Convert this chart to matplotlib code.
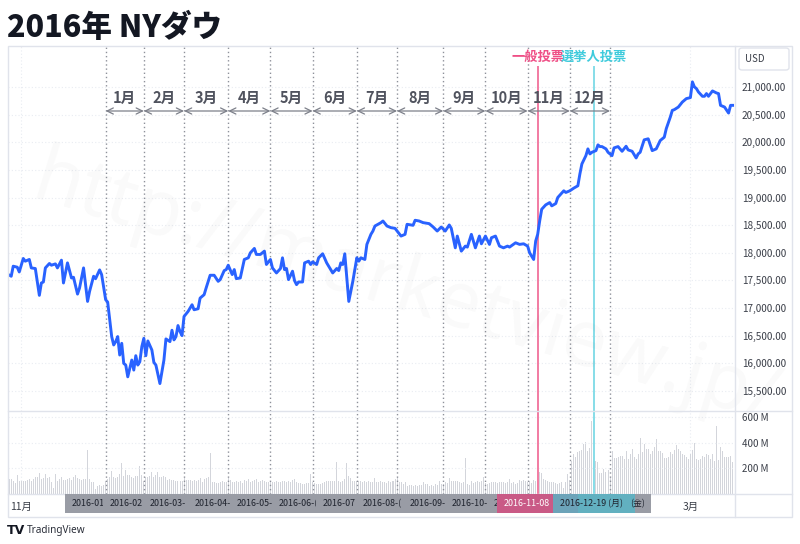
import matplotlib
matplotlib.use("Agg")
import matplotlib.pyplot as plt
from matplotlib.patches import Rectangle, FancyBboxPatch
from matplotlib.lines import Line2D
from matplotlib.transforms import blended_transform_factory
from matplotlib.ticker import FixedLocator, FuncFormatter

plt.rcParams['font.family'] = ['Noto Sans CJK JP', 'DejaVu Sans']

# ---------------- data (x = trading-day index, 0 = 2016-01-04) ----------------
price_idx = [-49, -47, -46, -44, -43, -41, -40, -38, -37, -35, -33, -32, -31, -30, -28, -27, -25, -24,
             -22, -21, -19, -17, -16, -14, -13, -11, -9, -8, -6, -5, -3, -2,
             0, 1, 2, 3, 4, 5, 6, 7, 8, 9, 10, 11, 12, 13, 14, 15, 16, 17, 18, 19, 20, 21, 23, 24, 25,
             27, 29, 30, 32, 33, 34, 35, 36, 37, 38, 39, 41, 43, 44, 46, 47, 49, 50, 52, 54, 56, 57,
             59, 60, 61, 63, 64, 65, 67, 69, 71, 72, 74, 75, 77, 79, 80, 82, 83, 85, 87, 88, 89, 90,
             91, 93, 94, 95, 96, 98, 99, 101, 102, 103, 105, 106, 108, 110, 112, 113, 115, 116, 117,
             118, 119, 121, 123, 125, 126, 127, 129, 130, 132, 133, 134, 137, 138, 140, 142, 144, 147,
             149, 150, 153, 154, 156, 158, 161, 163, 165, 167, 169, 171, 172, 174, 175, 177, 179, 180,
             182, 184, 186, 187, 189, 191, 192, 194, 196, 198, 200, 201, 204, 206, 208, 210, 211, 213,
             214, 215, 216, 217, 219, 221, 222, 224, 225, 228, 229, 231, 233, 235, 236, 237, 239, 240,
             241, 242, 244, 245, 246, 247, 249, 250, 252, 253, 255, 256, 257, 259, 260, 262, 264, 265,
             266, 268, 270, 272, 274, 276, 277, 278, 279, 281, 282, 283, 285, 287, 289, 291, 292, 293,
             294, 295, 297, 298, 299, 300, 302, 304, 305, 306, 308, 310, 311, 312]
price_close = [17618, 17576, 17758, 17740, 17654, 17898, 17849, 17880, 17727, 17716, 17230, 17454, 17472,
               17727, 17807, 17776, 17800, 17727, 17867, 17454, 17818, 17545, 17557, 17253, 17363, 17727,
               17120, 17302, 17576, 17533, 17691, 17606,
               17151, 17108, 16787, 16483, 16331, 16392, 16483, 16149, 16361, 15997, 15967, 15754, 15905,
               16058, 15876, 16137, 15967, 16027, 16301, 16452, 16137, 16404, 16240, 16015, 15967,
               15632, 16058, 16441, 16392, 16598, 16423, 16483, 16683, 16574, 16501, 16847, 16938, 17060,
               16969, 16987, 17180, 17242, 17363, 17594, 17594, 17484, 17515,
               17679, 17697, 17776, 17606, 17697, 17533, 17545, 17880, 17910, 18000, 18080, 17971, 17971,
               18031, 17789, 17880, 17727, 17636, 17716, 17910, 17697, 17716,
               17515, 17667, 17497, 17424, 17472, 17472, 17818, 17849, 17789, 17837, 17789, 17910, 17983,
               17818, 17697, 17636, 17716, 17679, 17818,
               17789, 17983, 17120, 17484, 17910, 17849, 17910, 17880, 18153, 18335, 18395, 18486, 18547,
               18577, 18486, 18456, 18444, 18304,
               18335, 18517, 18499, 18590, 18577, 18547, 18529, 18468, 18395, 18468, 18395, 18505, 18444,
               18091, 18304, 18031, 18122, 18104,
               18335, 18091, 18304, 18164, 18304, 18153, 18274, 18304, 18122, 18091, 18122, 18104, 18182,
               18153, 18164, 18122, 18000, 17880,
               18213, 18335, 18577, 18790, 18869, 18911, 18851, 18893, 19003, 19124, 19094, 19124, 19173,
               19215, 19428, 19610, 19761, 19883,
               19792, 19822, 19852, 19956, 19925, 19925, 19883, 19822, 19761, 19901, 19925, 19883, 19840,
               19931, 19865, 19840, 19719, 19792,
               19822, 20047, 20066, 19852, 19883, 20035, 20066, 20095, 20250, 20459, 20581, 20594, 20641,
               20732, 20794, 20812, 21097, 21006,
               20976, 20914, 20836, 20836, 20885, 20836, 20933, 20896, 20885, 20672, 20641, 20532, 20672,
               20672]

vol_first_idx = -49
volume_m = ([162, 117, 117, 104, 84, 151, 104, 104, 104, 104, 112, 117, 104, 117, 130, 136, 164, 117,
             125, 157, 125, 130, 91, 47, 157, 104, 117, 136, 112, 112, 117, 125, 112, 136, 151, 125,
             117, 112, 120, 115, 347, 117, 91, 96, 39, 60, 73, 65, 73]
            + [104, 117, 136, 183, 136, 125, 136, 157, 243, 143, 191, 151, 151, 136, 125, 138, 143, 222,
               151, 104, 136, 136, 143, 170, 130, 149, 175, 136, 136, 143, 130, 112, 117, 112, 112, 104,
               104, 104, 104, 125, 112, 112, 112, 104, 112, 104, 112, 125, 91, 117, 125, 130, 324, 91,
               91, 84, 84, 91, 104, 91, 91]
            + [125, 110, 91, 91, 104, 91, 104, 84, 112, 104, 117, 91, 104, 112, 117, 91, 104, 112, 104,
               91, 91, 91, 91, 91, 104, 91, 96, 99, 104, 91, 104, 91, 112, 117, 96, 84, 84, 78, 78, 88, 84]
            + [157]
            + [91, 84, 78, 78, 78, 84, 91, 104, 104, 104, 104, 104]
            + [248]
            + [104, 91, 104, 120]
            + [243]
            + [143, 125, 104, 104, 104, 104, 104, 91, 99, 91, 99, 91, 91, 125, 91, 91, 99, 91, 91, 84,
               99, 91, 99, 117, 130, 91]
            + [91, 78, 97, 65, 73, 73, 65, 73, 65, 73, 73, 97, 78, 78, 65, 73, 65, 78, 70, 99, 78, 78,
               91, 83, 125, 104, 104, 104, 104, 96, 88, 92]
            + [282]
            + [78, 73, 104, 83, 91, 99, 91, 104, 136, 83, 78, 83, 91, 91, 96, 83, 91, 91, 91, 83, 96,
               117, 83, 91, 78, 83, 110, 104, 112, 104]
            + [91, 99, 83, 110, 104, 120, 175, 162, 117, 110, 104, 91, 97, 91, 83, 78, 83, 91, 47, 91,
               157, 110, 261, 313, 287, 326, 339, 344, 392, 404, 339, 360, 574, 287, 261, 248, 162, 162,
               196, 170, 185, 130]
            + [339, 282, 282, 292, 300, 300, 274, 339, 274, 313, 352, 290, 274, 313, 438, 326, 391, 352,
               352, 313, 339, 370, 430, 339, 339, 320, 282, 282, 287, 326, 313, 344, 386, 352, 339, 313,
               308, 292, 274, 313, 344, 397, 274, 266, 274, 300, 287, 313, 308, 274, 313, 261, 535, 266,
               370, 334, 287, 292, 292, 300, 248])

month_bounds = [0, 19, 39, 61, 82, 103, 125, 145, 168, 189, 210, 231, 251]
month_labels = ['1月', '2月', '3月', '4月', '5月', '6月', '7月', '8月', '9月', '10月', '11月', '12月']
# visible (partly hidden by the next label) parts of the date labels on the time axis
bound_date_text = ['2016-01', '2016-02', '2016-03-', '2016-04-', '2016-05-', '2016-06-(',
                   '2016-07', '2016-08-(', '2016-09-', '2016-10-', '20', '', '(金)']
event_idx = [215, 243]
event_labels = ['一般投票', '選挙人投票']
event_date_text = ['2016-11-08', '2016-12-19 (月)']
time_ticks = [-42, 291]
time_tick_labels = ['11月', '3月']
price_ticks = [15500, 16000, 16500, 17000, 17500, 18000, 18500, 19000, 19500, 20000, 20500, 21000]
vol_ticks = [200, 400, 600]

# ---------------- figure ----------------
W, H = 800, 544
fig = plt.figure(figsize=(W / 100, H / 100), dpi=100)
fig.patch.set_facecolor('white')


def fx(x):
    return x / W


def fy(y):
    return 1 - y / H


PL, PR, PT, PB, VB = 8, 735, 46, 411, 494
ax = fig.add_axes([fx(PL), fy(PB), (PR - PL) / W, (PB - PT) / H])
axv = fig.add_axes([fx(PL), fy(VB), (PR - PL) / W, (VB - PB) / H], sharex=ax)

ax.set_xlim(-48.6, 313.2)
ax.set_ylim(15135, 21747)
axv.set_ylim(0, 650)

for a in (ax, axv):
    for s in a.spines.values():
        s.set_visible(False)
    a.set_facecolor('none')

grid_col = '#e9ecf2'
ax.yaxis.tick_right()
ax.yaxis.set_major_locator(FixedLocator(price_ticks))
ax.yaxis.set_major_formatter(FuncFormatter(lambda v, p: f'{v:,.2f}'))
ax.tick_params(axis='y', length=0, pad=5, labelsize=7.2, labelcolor='#3a3e48')
ax.tick_params(axis='x', length=0, labelbottom=False)
ax.grid(axis='y', color=grid_col, ls=(0, (1, 2)), lw=0.8)

axv.yaxis.tick_right()
axv.yaxis.set_major_locator(FixedLocator(vol_ticks))
axv.yaxis.set_major_formatter(FuncFormatter(lambda v, p: f'{int(v)} M'))
axv.tick_params(axis='y', length=0, pad=5, labelsize=7, labelcolor='#3a3e48')
axv.grid(axis='y', color=grid_col, ls=(0, (1, 2)), lw=0.8)
axv.set_xticks(time_ticks)
axv.set_xticklabels(time_tick_labels)
axv.tick_params(axis='x', length=0, pad=6, labelsize=7.5, labelcolor='#3a3e48')

for t in time_ticks:
    for a in (ax, axv):
        a.axvline(t, color=grid_col, ls=(0, (1, 2)), lw=0.8, zorder=0)

# volume
vol_x = list(range(vol_first_idx, vol_first_idx + len(volume_m)))
axv.bar(vol_x, volume_m, width=0.5, color='#d3d5db', zorder=1)

# month dotted lines
for b in month_bounds:
    for a in (ax, axv):
        a.axvline(b, color='#8e919a', ls=(0, (1, 2)), lw=1.0, zorder=2)

# event lines
ev_cols = ['#f27ba2', '#86dde8']
ev_text_cols = ['#ef4f86', '#3fcbdc']
ay_line_top = (PB - 67) / (PB - PT)
for b, c in zip(event_idx, ev_cols):
    ax.axvline(b, ymin=0, ymax=ay_line_top, color=c, lw=1.4, zorder=3)
    axv.axvline(b, color=c, lw=1.4, zorder=3)
tx = ax.get_xaxis_transform()
for b, lab, c in zip(event_idx, event_labels, ev_text_cols):
    ax.text(b, (PB - 57) / (PB - PT), lab, transform=tx, ha='center', va='center',
            fontsize=9.5, fontweight='bold', color=c, zorder=6)

# price line
ax.plot(price_idx, price_close, color='#2962ff', lw=2.1, zorder=5, solid_joinstyle='round')

# month arrows + labels
y_arrow = (PB - 111) / (PB - PT)
y_mlab = (PB - 98) / (PB - PT)
for i, lab in enumerate(month_labels):
    b0, b1 = month_bounds[i], month_bounds[i + 1]
    ax.annotate('', xy=(b1, y_arrow), xytext=(b0, y_arrow), xycoords=tx, textcoords=tx,
                arrowprops=dict(arrowstyle='<->,head_length=0.45,head_width=0.22', color='#7d808a',
                                lw=0.9, shrinkA=0, shrinkB=0), zorder=6)
    ax.text((b0 + b1) / 2, y_mlab, lab, transform=tx, ha='center', va='center',
            fontsize=10.5, fontweight='bold', color='#50535e', zorder=6)

# watermark
fig.text(fx(405), fy(292), 'http://marketview.jp/', rotation=-17, rotation_mode='anchor',
         ha='center', va='center', fontsize=56, fontweight='bold', color='#000000', alpha=0.025,
         family=['Noto Sans', 'DejaVu Sans'], zorder=4)

# frame
frame_col = '#e0e3eb'
fig.add_artist(Rectangle((fx(PL), fy(517)), (792 - PL) / W, (517 - PT) / H, fill=False,
                         edgecolor=frame_col, lw=1, transform=fig.transFigure, zorder=8))
fig.add_artist(Line2D([fx(PR), fx(PR)], [fy(PT), fy(517)], color=frame_col, lw=1,
                      transform=fig.transFigure, zorder=8))
fig.add_artist(Line2D([fx(PL), fx(792)], [fy(PB), fy(PB)], color=frame_col, lw=1,
                      transform=fig.transFigure, zorder=8))
fig.add_artist(Line2D([fx(PL), fx(792)], [fy(VB), fy(VB)], color=frame_col, lw=1,
                      transform=fig.transFigure, zorder=8))

# USD box
fig.add_artist(FancyBboxPatch((fx(739), fy(70)), 50 / W, 22 / H,
                              boxstyle='round,pad=0,rounding_size=0.004',
                              facecolor='white', edgecolor=frame_col, lw=1,
                              transform=fig.transFigure, zorder=9))
fig.text(fx(745), fy(59), 'USD', ha='left', va='center', fontsize=7, color='#3a3e48', zorder=10)

# date label bar under the axis
tb = blended_transform_factory(axv.transData, fig.transFigure)
bar_y0, bar_h = fy(513), 19 / H
half_w = 20.2
txt_off = 3.3
dfs = 6.4
z = 20
n_b = len(month_bounds)
for i, (b, d) in enumerate(zip(month_bounds, bound_date_text)):
    fig.add_artist(Rectangle((b - half_w, bar_y0), 2 * half_w, bar_h, transform=tb,
                             facecolor='#999ca5', edgecolor='none', zorder=z))
    if d:
        if i == n_b - 1:
            fig.text(b + half_w - 2.8, fy(503.5), d, transform=tb, ha='right', va='center',
                     fontsize=dfs, color='#1e222d', zorder=60)
        else:
            fig.text(b - half_w + txt_off, fy(503.5), d, transform=tb, ha='left', va='center',
                     fontsize=dfs, color='#1e222d', zorder=z + 1)
    z += 2
box_cols = ['#c95a86', '#55b6c7']
box_alpha = [1.0, 0.8]
text_cols = ['white', '#1e222d']
for b, d, c, al, tc in zip(event_idx, event_date_text, box_cols, box_alpha, text_cols):
    fig.add_artist(Rectangle((b - half_w, bar_y0), 2 * half_w, bar_h, transform=tb,
                             facecolor=c, alpha=al, edgecolor='none', zorder=z))
    fig.text(b - half_w + txt_off, fy(503.5), d, transform=tb, ha='left', va='center',
             fontsize=dfs, color=tc, zorder=z + 1)
    z += 2

# title
fig.text(fx(7), fy(28), '2016年 NYダウ', ha='left', va='center', fontsize=22,
         fontweight='heavy', color='#131722')

# TradingView mark
fig.text(fx(7), fy(530.5), 'TV', ha='left', va='center', fontsize=9, fontweight='heavy',
         color='#131722', family=['DejaVu Sans'])
fig.text(fx(27), fy(530.5), 'TradingView', ha='left', va='center', fontsize=7.2,
         color='#2a2e39', family=['Noto Sans', 'DejaVu Sans'])

fig.savefig('out.png', dpi=100, facecolor='white')
